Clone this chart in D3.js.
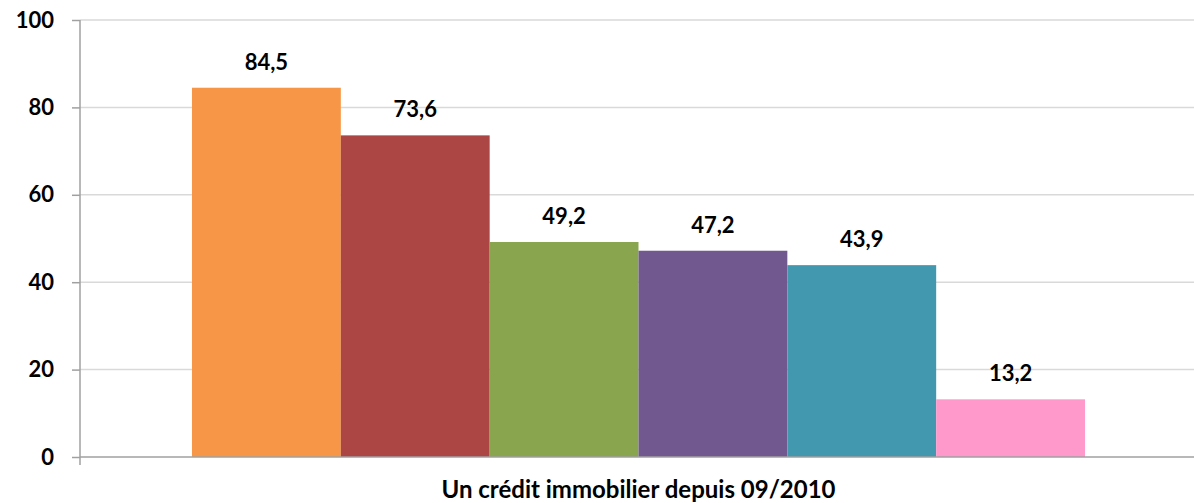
<!DOCTYPE html>
<html>
<head>
<meta charset="utf-8">
<script src="https://cdn.jsdelivr.net/npm/d3@7"></script>
<style>
  body { margin: 0; background: #fff; }
  svg text { font-family: Lato, "Open Sans", sans-serif; font-weight: bold; fill: #000; }
</style>
</head>
<body>
<div id="chart"></div>
<script>
const category = 'Un crédit immobilier depuis 09/2010';
const seriesNames = ['s1', 's2', 's3', 's4', 's5', 's6'];
const values = [84.5, 73.6, 49.2, 47.2, 43.9, 13.2];
const barColors = ['#F79646', '#AB4644', '#89A54E', '#71588F', '#4198AF', '#FF99CC'];
const yTicks = [0, 20, 40, 60, 80, 100];

const width = 1194, height = 503;
const plot = { left: 80, right: 1197, top: 20, bottom: 457 };

const svg = d3.select('#chart').append('svg')
    .attr('width', width)
    .attr('height', height);

const y = d3.scaleLinear().domain([0, 100]).range([plot.bottom, plot.top]);

const x0 = d3.scaleBand()
    .domain([category])
    .range([plot.left, plot.right])
    .paddingInner(0)
    .paddingOuter(0.1254);

const x1 = d3.scaleBand()
    .domain(seriesNames)
    .range([0, x0.bandwidth()])
    .padding(0);

// gridlines
svg.append('g')
    .selectAll('line')
    .data(yTicks.filter(d => d > 0))
    .enter()
    .append('line')
    .attr('x1', plot.left)
    .attr('x2', width)
    .attr('y1', d => y(d))
    .attr('y2', d => y(d))
    .attr('stroke', '#d9d9d9')
    .attr('stroke-width', 1.5);

// bars
const g = svg.append('g').attr('transform', 'translate(' + x0(category) + ',0)');
g.selectAll('rect')
    .data(values)
    .enter()
    .append('rect')
    .attr('x', (d, i) => x1(seriesNames[i]))
    .attr('width', x1.bandwidth())
    .attr('y', d => y(d))
    .attr('height', d => y(0) - y(d))
    .attr('fill', (d, i) => barColors[i]);

// value labels
g.selectAll('text')
    .data(values)
    .enter()
    .append('text')
    .attr('x', (d, i) => x1(seriesNames[i]) + x1.bandwidth() / 2)
    .attr('y', d => y(d) - 18)
    .attr('text-anchor', 'middle')
    .style('font-size', '22px')
    .text(d => d.toFixed(1).replace('.', ','));

// y axis
const yAxis = d3.axisLeft(y).tickValues(yTicks).tickSize(8).tickPadding(18);
const ya = svg.append('g')
    .attr('transform', 'translate(' + plot.left + ',0)')
    .call(yAxis);
ya.select('.domain').attr('stroke', '#a0a0a0').attr('stroke-width', 1.5)
    .attr('d', 'M0,' + (plot.bottom + 8) + 'V' + plot.top);
ya.selectAll('.tick line').attr('stroke', '#a0a0a0').attr('stroke-width', 1.5);
ya.selectAll('.tick text').style('font-size', '22px').attr('font-family', null);

// x axis
svg.append('line')
    .attr('x1', plot.left)
    .attr('x2', width)
    .attr('y1', plot.bottom)
    .attr('y2', plot.bottom)
    .attr('stroke', '#a0a0a0')
    .attr('stroke-width', 1.5);

svg.append('text')
    .attr('x', x0(category) + x0.bandwidth() / 2)
    .attr('y', 498)
    .attr('text-anchor', 'middle')
    .style('font-size', '24px')
    .text(category);
</script>
</body>
</html>
